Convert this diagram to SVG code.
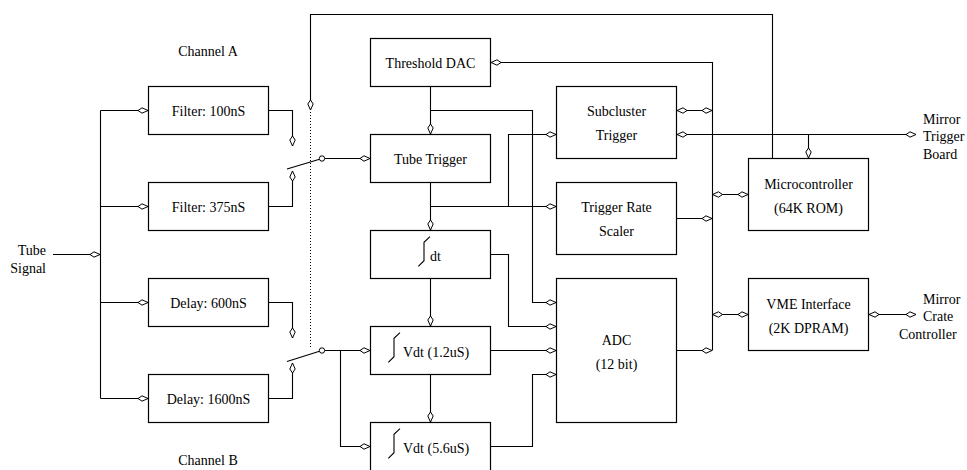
<svg xmlns="http://www.w3.org/2000/svg" width="967" height="470" viewBox="0 0 967 470">
<style>
text{font-family:"Liberation Serif","Times New Roman",serif;font-size:14px;fill:#000;text-anchor:middle}
.st{text-anchor:start}
.en{text-anchor:end}
rect{fill:#fff;stroke:#000;stroke-width:1.2}
.ln{fill:none;stroke:#000;stroke-width:1.1}
.a{marker-end:url(#ah)}
.b{marker-start:url(#ah);marker-end:url(#ah)}
.dot{fill:none;stroke:#000;stroke-width:1;stroke-dasharray:1 2}
.sw{fill:#fff;stroke:#000;stroke-width:1}
</style>
<defs>
<marker id="ah" viewBox="-11 -4 12 8" refX="0" refY="0" markerWidth="12" markerHeight="8" markerUnits="userSpaceOnUse" orient="auto-start-reverse">
<path d="M0,0 L-6,-2.7 L-10,0 L-6,2.7 Z" fill="#fff" stroke="#000" stroke-width="1"/>
</marker>
</defs>
<rect x="0" y="0" width="967" height="470" style="stroke:none;fill:#fff"/>

<g id="connectors">
<path class="ln a" d="M53,254.5 H100"/>
<path class="ln" d="M100.5,110.5 V398.5"/>
<path class="ln a" d="M100.5,110.5 H148"/>
<path class="ln a" d="M100.5,206.5 H148"/>
<path class="ln a" d="M100.5,302.5 H148"/>
<path class="ln a" d="M100.5,398.5 H148"/>
<path class="ln a" d="M268.5,110.5 H292.5 V146"/>
<path class="ln a" d="M268.5,206.5 H292.5 V171"/>
<path class="ln a" d="M268.5,302.5 H292.5 V338"/>
<path class="ln a" d="M268.5,398.5 H292.5 V363"/>
<path class="ln" d="M287,169 L319.5,159.3"/>
<path class="ln" d="M287,361.5 L319.5,351.3"/>
<path class="ln a" d="M324.7,158.5 H370"/>
<path class="ln a" d="M324.7,350.5 H370"/>
<path class="ln a" d="M340.5,350.5 V446.5 H370"/>
<path class="ln a" d="M772.5,158.5 V14.5 H310.5 V110"/>
<path class="dot" d="M310.5,112 V348"/>
<path class="ln a" d="M712.5,350.5 V62.5 H491"/>
<path class="ln a" d="M430.5,86.5 V134"/>
<path class="ln a" d="M430.5,110.5 H532.5 V302.5 H556"/>
<path class="ln a" d="M430.5,182.5 V230"/>
<path class="ln a" d="M430.5,206.5 H556"/>
<path class="ln a" d="M508.5,206.5 V134.5 H556"/>
<path class="ln b" d="M677,110.5 H712"/>
<path class="ln b" d="M677,134.5 H916"/>
<path class="ln a" d="M808.5,134.5 V158"/>
<path class="ln b" d="M712.5,194.5 H748"/>
<path class="ln a" d="M676.5,218.5 H712"/>
<path class="ln a" d="M490.5,254.5 H508.5 V326.5 H556"/>
<path class="ln a" d="M430.5,278.5 V326"/>
<path class="ln a" d="M490.5,350.5 H556"/>
<path class="ln a" d="M430.5,374.5 V422"/>
<path class="ln a" d="M490.5,446.5 H532.5 V374.5 H556"/>
<path class="ln a" d="M676.5,350.5 H712"/>
<path class="ln b" d="M712.5,314.5 H748"/>
<path class="ln b" d="M869,314.5 H916"/>
</g>

<g id="switchA"><circle class="sw" cx="322" cy="158.5" r="2.7"/></g>
<g id="switchB"><circle class="sw" cx="322" cy="350.5" r="2.7"/></g>

<g id="labels">
<text x="208" y="55.5">Channel A</text>
<text x="208" y="464.5">Channel B</text>
<text class="en" x="46" y="255">Tube</text>
<text class="en" x="46" y="273">Signal</text>
<text class="st" x="923" y="123.5">Mirror</text>
<text class="st" x="923" y="141">Trigger</text>
<text class="st" x="923" y="158.5">Board</text>
<text class="st" x="923" y="303.5">Mirror</text>
<text class="st" x="923" y="321">Crate</text>
<text class="st" x="899" y="338.5">Controller</text>
</g>

<g id="filter100"><rect x="148.5" y="86.5" width="120" height="48"/><text x="208.5" y="115.5">Filter: 100nS</text></g>
<g id="filter375"><rect x="148.5" y="182.5" width="120" height="48"/><text x="208.5" y="211.5">Filter: 375nS</text></g>
<g id="delay600"><rect x="148.5" y="278.5" width="120" height="48"/><text x="208.5" y="307.5">Delay: 600nS</text></g>
<g id="delay1600"><rect x="148.5" y="374.5" width="120" height="48"/><text x="208.5" y="403.5">Delay: 1600nS</text></g>

<g id="thresholdDAC"><rect x="370.5" y="38.5" width="120" height="48"/><text x="430.5" y="67.5">Threshold DAC</text></g>
<g id="tubeTrigger"><rect x="370.5" y="134.5" width="120" height="48"/><text x="430.5" y="163.5">Tube Trigger</text></g>
<g id="dt"><rect x="370.5" y="230.5" width="120" height="48"/><polyline class="ln" points="430,236.7 424,242.3 424,260.7 418.3,266.3"/><text class="st" x="430" y="261">dt</text></g>
<g id="vdt12"><rect x="370.5" y="326.5" width="120" height="48"/><polyline class="ln" points="400,332.7 394,338.3 394,356.7 388.3,362.3"/><text class="st" x="403" y="357">Vdt (1.2uS)</text></g>
<g id="vdt56"><rect x="370.5" y="422.5" width="120" height="50"/><polyline class="ln" points="400,428.7 394,434.3 394,452.7 388.3,458.3"/><text class="st" x="403" y="453">Vdt (5.6uS)</text></g>

<g id="subcluster"><rect x="556.5" y="86.5" width="120" height="72"/><text x="616.5" y="115.5">Subcluster</text><text x="616.5" y="139.5">Trigger</text></g>
<g id="rateScaler"><rect x="556.5" y="182.5" width="120" height="72"/><text x="616.5" y="211.5">Trigger Rate</text><text x="616.5" y="235.5">Scaler</text></g>
<g id="adc"><rect x="556.5" y="278.5" width="120" height="144"/><text x="616.5" y="345">ADC</text><text x="616.5" y="369">(12 bit)</text></g>
<g id="microcontroller"><rect x="748.5" y="158.5" width="120" height="72"/><text x="808.5" y="188.5">Microcontroller</text><text x="808.5" y="212.5">(64K ROM)</text></g>
<g id="vme"><rect x="748.5" y="278.5" width="120" height="72"/><text x="808.5" y="308.5">VME Interface</text><text x="808.5" y="332.5">(2K DPRAM)</text></g>
</svg>
